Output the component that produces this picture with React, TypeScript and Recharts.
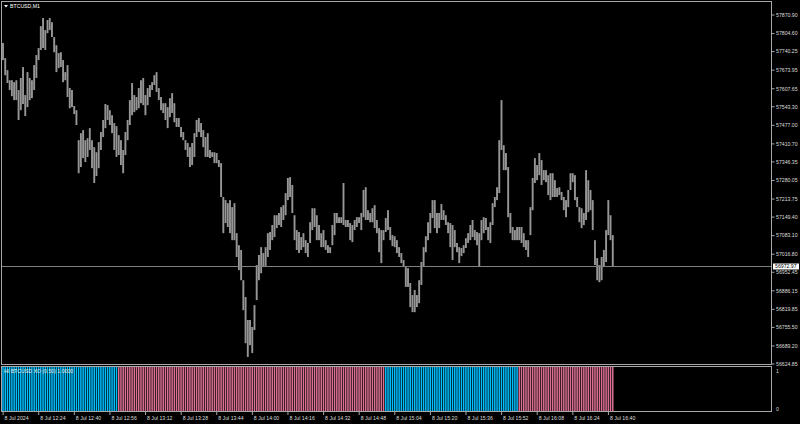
import { ComposedChart, Bar, XAxis, YAxis, ReferenceLine } from 'recharts';

const SYMBOL = 'BTCUSD,M1';
const XO_LABEL = 'HI BTCUSD XO (0,50) 1.0000';
const LAST_PRICE = 56972.97;
const TOTAL_SLOTS = 346; // bars that fit in the window, incl. empty space on the right

// M1 bar highs / lows, 8 Jul 2024 12:08 .. 16:42
const HIGH = [
    57771, 57717, 57674, 57638, 57638, 57631, 57638, 57603, 57646, 57685,
    57585, 57667, 57646, 57638, 57692, 57728, 57753, 57831, 57860, 57817,
    57853, 57860, 57845, 57792, 57763, 57735, 57738, 57710, 57667, 57692,
    57610, 57603, 57546, 57531, 57424, 57449, 57460, 57424, 57431, 57467,
    57424, 57399, 57381, 57417, 57453, 57496, 57553, 57549, 57531, 57513,
    57485, 57474, 57442, 57424, 57389, 57453, 57496, 57567, 57628, 57585,
    57578, 57610, 57638, 57646, 57585, 57610, 57621, 57631, 57656, 57667,
    57610, 57578, 57556, 57556, 57542, 57574, 57592, 57556, 57503, 57503,
    57471, 57453, 57424, 57414, 57399, 57414, 57449, 57496, 57503, 57485,
    57460, 57435, 57449, 57389, 57381, 57381, 57378, 57353, 57342, 57221,
    57210, 57199, 57210, 57185, 57199, 57092, 57049, 57032, 56924, 56864,
    56782, 56782, 56757, 56835, 56978, 57014, 57042, 57021, 57042, 57092,
    57096, 57121, 57156, 57156, 57164, 57185, 57192, 57235, 57289, 57292,
    57264, 57156, 57103, 57096, 57078, 57092, 57067, 57057, 57131, 57181,
    57181, 57156, 57121, 57092, 57103, 57067, 57049, 57042, 57121, 57164,
    57164, 57149, 57149, 57271, 57139, 57139, 57128, 57121, 57139, 57149,
    57149, 57164, 57246, 57256, 57174, 57164, 57181, 57192, 57139, 57110,
    57103, 57103, 57146, 57174, 57114, 57085, 57081, 57067, 57042, 57021,
    56996, 56971, 56967, 56914, 56871, 56889, 56871, 56924, 56989, 57042,
    57081, 57131, 57164, 57210, 57210, 57164, 57164, 57196, 57174, 57156,
    57131, 57128, 57121, 57103, 57057, 57042, 57039, 57049, 57074, 57092,
    57121, 57139, 57103, 57096, 57092, 57139, 57149, 57146, 57114, 57131,
    57199, 57221, 57256, 57424, 57567, 57406, 57378, 57328, 57164, 57114,
    57103, 57114, 57114, 57114, 57092, 57067, 57067, 57185, 57289, 57360,
    57335, 57378, 57353, 57317, 57317, 57299, 57306, 57306, 57281, 57253,
    57256, 57239, 57221, 57210, 57246, 57306, 57306, 57299, 57221, 57185,
    57181, 57164, 57317, 57281, 57246, 57210, 57067, 57003, 56978, 57007,
    57032, 57103, 57210, 57156, 57085,
];

const LOW = [
    57710, 57656, 57628, 57603, 57581, 57567, 57567, 57496, 57531, 57553,
    57510, 57542, 57567, 57574, 57603, 57646, 57710, 57746, 57753, 57746,
    57806, 57817, 57792, 57738, 57667, 57681, 57685, 57631, 57638, 57578,
    57538, 57542, 57517, 57478, 57306, 57328, 57360, 57346, 57364, 57389,
    57324, 57271, 57296, 57324, 57389, 57435, 57467, 57496, 57478, 57449,
    57389, 57364, 57371, 57335, 57306, 57371, 57424, 57478, 57513, 57524,
    57531, 57538, 57556, 57549, 57513, 57549, 57578, 57603, 57621, 57596,
    57567, 57531, 57521, 57496, 57467, 57506, 57521, 57488, 57471, 57471,
    57435, 57424, 57389, 57364, 57328, 57335, 57364, 57435, 57453, 57435,
    57399, 57364, 57364, 57360, 57364, 57342, 57342, 57328, 57221, 57092,
    57128, 57114, 57092, 57067, 57067, 57007, 56960, 56924, 56817, 56699,
    56650, 56692, 56664, 56746, 56853, 56924, 56949, 56971, 56971, 57007,
    57032, 57067, 57078, 57110, 57121, 57114, 57139, 57156, 57210, 57221,
    57164, 57067, 57032, 57021, 57032, 57042, 57021, 57007, 57057, 57103,
    57114, 57067, 57067, 57042, 57042, 57032, 57021, 57021, 57049, 57085,
    57128, 57128, 57128, 57121, 57114, 57114, 57067, 57060, 57103, 57114,
    57128, 57103, 57149, 57139, 57139, 57131, 57131, 57110, 57092, 57024,
    56985, 57067, 57096, 57103, 57067, 57046, 57042, 57021, 57007, 56985,
    56971, 56900, 56900, 56828, 56810, 56810, 56828, 56842, 56907, 56971,
    57024, 57067, 57092, 57146, 57110, 57092, 57110, 57139, 57139, 57121,
    57092, 57042, 56996, 57042, 57024, 56985, 57010, 57021, 57039, 57057,
    57067, 57078, 57067, 57049, 56971, 57067, 57092, 57103, 57067, 57057,
    57121, 57185, 57210, 57235, 57389, 57317, 57317, 57149, 57092, 57067,
    57067, 57067, 57067, 57057, 57042, 57032, 57007, 57085, 57174, 57271,
    57281, 57299, 57264, 57281, 57274, 57228, 57210, 57221, 57221, 57221,
    57228, 57210, 57174, 57149, 57185, 57246, 57274, 57210, 57185, 57131,
    57110, 57121, 57139, 57167, 57174, 57103, 56978, 56924, 56917, 56924,
    56971, 56989, 57085, 57067, 56971,
];

const PRICE_TICKS = [
    57870.9, 57804.6, 57740.25, 57673.95, 57607.65, 57543.3, 57477.0, 57410.7, 57346.35, 57280.05,
    57213.75, 57149.4, 57083.1, 57016.8, 56952.45, 56886.15, 56819.85, 56755.5, 56689.2, 56624.85,
];
const PRICE_MIN = 56624.85;
const PRICE_MAX = 57917.3;

const TIME_TICK_BARS = [0, 16, 32, 48, 64, 80, 96, 112, 128, 144, 160, 176, 192, 208, 224, 240, 256, 272];
const TIME_LABELS = [
    '8 Jul 2024', '8 Jul 12:24', '8 Jul 12:40', '8 Jul 12:56', '8 Jul 13:12', '8 Jul 13:28',
    '8 Jul 13:44', '8 Jul 14:00', '8 Jul 14:16', '8 Jul 14:32', '8 Jul 14:48', '8 Jul 15:04',
    '8 Jul 15:20', '8 Jul 15:36', '8 Jul 15:52', '8 Jul 16:08', '8 Jul 16:24', '8 Jul 16:40',
];

// XO indicator: runs of up (blue) / down (pink) state
const XO_RUN_START = [0, 52, 172, 232];
const XO_RUN_UP = [true, false, true, false];

const FONT = '"Liberation Sans", Arial, sans-serif';
const TEXT = '#dcdcdc';
const FRAME = '#a8a8a8';

const rows = Array.from({ length: TOTAL_SLOTS }, (_, i) => {
    const has = i < HIGH.length;
    let run = 0;
    XO_RUN_START.forEach((s, r) => { if (i >= s) run = r; });
    return {
        i,
        range: has ? [LOW[i], HIGH[i]] : null,
        xo: has ? 1 : null,
        up: XO_RUN_UP[run],
    };
});

const PriceBar = (p: any) => {
    if (!p.payload || p.payload.range == null) return null;
    const cx = p.x + p.width / 2;
    const top = Math.min(p.y, p.y + p.height);
    const h = Math.max(1, Math.abs(p.height));
    return <rect x={cx - 0.95} y={top} width={1.9} height={h} fill="#969696" />;
};

const XoBar = (p: any) => {
    if (!p.payload || p.payload.xo == null) return null;
    const cx = p.x + p.width / 2;
    const top = Math.min(p.y, p.y + p.height);
    const h = Math.abs(p.height);
    return <rect x={cx - 0.75} y={top} width={1.5} height={h} fill={p.payload.up ? '#00BFFF' : '#DB7093'} />;
};

const PriceTick = ({ x, y, payload }: any) => (
    <g>
        <line x1={x} x2={x + 2.5} y1={y} y2={y} stroke={FRAME} strokeWidth={1} />
        <text x={x + 4} y={y} dy={1.8} fill={TEXT} fontSize={5.2} fontFamily={FONT}>
            {payload.value.toFixed(2)}
        </text>
    </g>
);

const XoTick = ({ x, y, payload }: any) => (
    <text x={x + 4} y={y} dy={payload.value === 1 ? 5.5 : -1.5} fill={TEXT} fontSize={5.2} fontFamily={FONT}>
        {payload.value}
    </text>
);

const TimeTick = ({ x, y, payload }: any) => {
    const k = TIME_TICK_BARS.indexOf(payload.value);
    if (k < 0) return null;
    return (
        <g>
            <line x1={x} x2={x} y1={y} y2={y + 3} stroke={FRAME} strokeWidth={1} />
            <text x={x + 1.5} y={y + 8} fill={TEXT} fontSize={5.2} fontFamily={FONT}>
                {TIME_LABELS[k]}
            </text>
        </g>
    );
};

const LastPriceTag = ({ viewBox }: any) => {
    if (!viewBox) return null;
    const x = viewBox.x + viewBox.width + 1;
    return (
        <g>
            <rect x={x} y={viewBox.y - 3} width={26} height={6} fill="#ffffff" />
            <text x={x + 2} y={viewBox.y} dy={1.8} fill="#000000" fontSize={5.2} fontFamily={FONT}>
                {LAST_PRICE.toFixed(2)}
            </text>
        </g>
    );
};

export default function App() {
    return (
        <div style={{ position: 'absolute', left: 0, top: 0, width: 800, height: 424, background: '#000', overflow: 'hidden' }}>
            <div style={{ position: 'absolute', left: 0, top: 0 }}>
                <ComposedChart width={800} height={366} data={rows} margin={{ top: 2, right: 0, bottom: 2, left: 2 }}
                    barCategoryGap={0} barGap={0}>
                    <XAxis dataKey="i" type="category" hide />
                    <YAxis orientation="right" width={28} domain={[PRICE_MIN, PRICE_MAX]} allowDataOverflow
                        ticks={PRICE_TICKS} interval={0} axisLine={false} tickLine={false} tickSize={0}
                        tickMargin={0} tick={<PriceTick />} />
                    <ReferenceLine y={LAST_PRICE} stroke="#808080" strokeWidth={1} label={<LastPriceTag />} />
                    <Bar dataKey="range" shape={<PriceBar />} isAnimationActive={false} />
                </ComposedChart>
            </div>
            <div style={{ position: 'absolute', left: 0, top: 366 }}>
                <ComposedChart width={800} height={58} data={rows} margin={{ top: 1, right: 0, bottom: 0, left: 2 }}
                    barCategoryGap={0} barGap={0}>
                    <XAxis dataKey="i" type="category" ticks={TIME_TICK_BARS} interval={0} height={12}
                        axisLine={false} tickLine={false} tickSize={0} tickMargin={0} tick={<TimeTick />} />
                    <YAxis orientation="right" width={28} domain={[0, 1]} ticks={[0, 1]} interval={0}
                        axisLine={false} tickLine={false} tickSize={0} tickMargin={0} tick={<XoTick />} />
                    <Bar dataKey="xo" shape={<XoBar />} isAnimationActive={false} />
                </ComposedChart>
            </div>
            {/* window frames */}
            <div style={{ position: 'absolute', left: 1, top: 1, width: 771, height: 364, boxSizing: 'border-box', border: `1px solid ${FRAME}`, pointerEvents: 'none' }} />
            <div style={{ position: 'absolute', left: 1, top: 366, width: 771, height: 46, boxSizing: 'border-box', border: `1px solid ${FRAME}`, pointerEvents: 'none' }} />
            <svg width={800} height={424} style={{ position: 'absolute', left: 0, top: 0, pointerEvents: 'none' }}>
                <polygon points="4,5 8,5 6,7.5" fill="#ffffff" />
                <text x={10} y={8} fill="#ffffff" fontSize={5.2} fontFamily={FONT}>{SYMBOL}</text>
                <text x={4} y={373} fill="#e8e8e8" fontSize={5.2} fontFamily={FONT}>{XO_LABEL}</text>
            </svg>
        </div>
    );
}
